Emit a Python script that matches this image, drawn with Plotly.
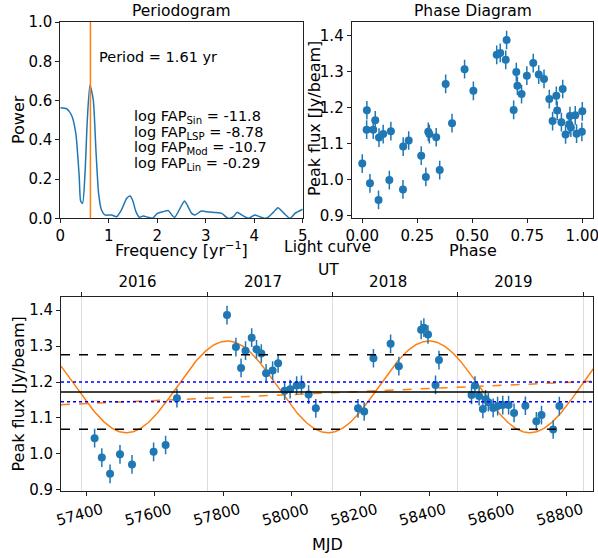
import numpy as np
import plotly.graph_objects as go

# ---------------- data ----------------
freq = [0.0, 0.13, 0.23, 0.32, 0.39, 0.42, 0.46, 0.51, 0.557, 0.612, 0.68, 0.735, 0.79, 0.85,
        0.92, 1.06, 1.16, 1.26, 1.37, 1.44, 1.49, 1.56, 1.63, 1.71, 1.81, 1.90, 2.0, 2.12,
        2.23, 2.30, 2.36, 2.47, 2.56, 2.60, 2.71, 2.78, 2.91, 3.02, 3.22, 3.33, 3.46, 3.57,
        3.65, 3.74, 3.88, 4.01, 4.12, 4.25, 4.39, 4.49, 4.60, 4.74, 4.84, 5.0]
power = [0.563, 0.558, 0.526, 0.433, 0.212, 0.088, 0.076, 0.229, 0.50, 0.679, 0.603, 0.348,
         0.127, 0.042, 0.017, 0.017, 0.008, 0.042, 0.102, 0.114, 0.093, 0.034, 0.005, 0.012,
         0.005, 0.0, 0.025, 0.034, 0.039, 0.017, 0.005, 0.051, 0.088, 0.076, 0.025, 0.017,
         0.037, 0.034, 0.029, 0.025, 0.0, 0.008, 0.031, 0.017, 0.0, 0.017, 0.008, 0.0, 0.029,
         0.054, 0.029, 0.0, 0.025, 0.046]
period_yr = 1.61
fap_names = ["Sin", "LSP", "Mod", "Lin"]
fap_values = ["-11.8", "-8.78", "-10.7", "-0.29"]

phase = [0.000, 0.021, 0.020, 0.035, 0.050, 0.059, 0.074, 0.076, 0.095, 0.123, 0.130, 0.185,
         0.186, 0.211, 0.268, 0.289, 0.300, 0.305, 0.336, 0.352, 0.379, 0.408, 0.465, 0.505,
         0.611, 0.627, 0.652, 0.656, 0.688, 0.700, 0.705, 0.724, 0.748, 0.777, 0.802, 0.826,
         0.850, 0.865, 0.882, 0.886, 0.905, 0.911, 0.924, 0.941, 0.944, 0.948, 0.968, 0.974,
         0.998, 1.000]
phase_flux = [1.044, 1.192, 1.138, 0.989, 1.138, 1.164, 0.943, 1.116, 1.126, 0.998, 1.134,
              0.972, 1.091, 1.108, 1.066, 1.007, 1.132, 1.126, 1.117, 1.026, 1.265, 1.156,
              1.306, 1.246, 1.346, 1.351, 1.332, 1.387, 1.193, 1.298, 1.260, 1.237, 1.288,
              1.323, 1.291, 1.279, 1.223, 1.162, 1.232, 1.191, 1.159, 1.251, 1.125, 1.153,
              1.176, 1.144, 1.178, 1.127, 1.132, 1.189]

mjd = [57425, 57446, 57470, 57499, 57534, 57597, 57632, 57665,
       57811, 57837, 57852, 57865, 57883, 57897, 57911, 57925, 57944, 57960, 57979, 57995,
       58014, 58028, 58049, 58070,
       58193, 58211, 58238, 58288, 58312, 58377, 58385, 58397, 58419, 58429,
       58524, 58534, 58546, 58557, 58565, 58573, 58587, 58600, 58615, 58632, 58648, 58681,
       58713, 58728, 58762, 58780]
flux = [1.044, 0.990, 0.945, 0.999, 0.971, 1.006, 1.025, 1.155,
        1.386, 1.297, 1.239, 1.287, 1.323, 1.291, 1.279, 1.224, 1.232, 1.252, 1.176, 1.180,
        1.190, 1.192, 1.165, 1.127,
        1.127, 1.118, 1.266, 1.306, 1.244, 1.345, 1.351, 1.332, 1.192, 1.261,
        1.164, 1.190, 1.161, 1.125, 1.152, 1.144, 1.128, 1.133, 1.136, 1.136, 1.114, 1.134,
        1.091, 1.108, 1.068, 1.133]
flux_err = [0.026] * len(flux)
phase_err = [0.026] * len(phase_flux)

flux_mean = 1.172
flux_std_hi, flux_std_lo = 1.276, 1.069
blue_hi, blue_lo = 1.200, 1.145
sine_mean, sine_amp, sine_peak_mjd = 1.1865, 0.1275, 57812
trend_start, trend_end = 1.137, 1.202

year_mjd = [57388, 57754, 58119, 58484, 58849]
year_label_mjd = [57550, 57916, 58281, 58646]
year_labels = ["2016", "2017", "2018", "2019"]
mjd_range = [57327, 58879]

# ---------------- styling ----------------
W, H = 598, 558
FONT = "DejaVu Sans"
BLUE = "#1f77b4"
ORANGE = "#ff7f0e"
AX = "#222222"
TICK_SIZE = 15
LABEL_SIZE = 16
TITLE_SIZE = 15.5
TEXT_SIZE = 14.5


def px(xp):
    return xp / W


def py(yp):
    return 1 - yp / H


fig = go.Figure()

# Periodogram
fig.add_trace(go.Scatter(x=freq, y=power, mode="lines",
                         line=dict(color=BLUE, width=1.5, shape="spline", smoothing=0.6),
                         xaxis="x", yaxis="y", showlegend=False, hoverinfo="skip"))
f_peak = 1.0 / period_yr
fig.add_shape(type="line", xref="x", yref="y domain", x0=f_peak, x1=f_peak, y0=0, y1=1,
              line=dict(color=ORANGE, width=1.5))

# Phase diagram
fig.add_trace(go.Scatter(x=phase, y=phase_flux, mode="markers",
                         marker=dict(color=BLUE, size=8),
                         error_y=dict(type="data", array=phase_err, color=BLUE, thickness=1.5, width=0),
                         xaxis="x2", yaxis="y2", showlegend=False))

# Light curve: model lines
t = np.linspace(mjd_range[0], mjd_range[1], 600)
P_days = period_yr * 365.25
sine = sine_mean + sine_amp * np.cos(2 * np.pi * (t - sine_peak_mjd) / P_days)
trend = trend_start + (trend_end - trend_start) * (t - t[0]) / (t[-1] - t[0])

for yv, col, dash in [(flux_std_hi, "black", "dash"), (flux_std_lo, "black", "dash"),
                      (flux_mean, "black", "solid"),
                      (blue_hi, "blue", "dot"), (blue_lo, "blue", "dot")]:
    fig.add_shape(type="line", xref="x3 domain", yref="y3", x0=0, x1=1, y0=yv, y1=yv,
                  line=dict(color=col, width=1.5, dash=dash), layer="above")

fig.add_trace(go.Scatter(x=t, y=trend, mode="lines", line=dict(color=ORANGE, width=1.5, dash="dash"),
                         xaxis="x3", yaxis="y3", showlegend=False, hoverinfo="skip"))
fig.add_trace(go.Scatter(x=t, y=sine, mode="lines", line=dict(color=ORANGE, width=1.5),
                         xaxis="x3", yaxis="y3", showlegend=False, hoverinfo="skip"))
fig.add_trace(go.Scatter(x=mjd, y=flux, mode="markers",
                         marker=dict(color=BLUE, size=8),
                         error_y=dict(type="data", array=flux_err, color=BLUE, thickness=1.5, width=0),
                         xaxis="x3", yaxis="y3", showlegend=False))
# dummy traces for top axes
fig.add_trace(go.Scatter(x=mjd_range, y=[None, None], xaxis="x4", yaxis="y3", showlegend=False, hoverinfo="skip"))
fig.add_trace(go.Scatter(x=mjd_range, y=[None, None], xaxis="x5", yaxis="y3", showlegend=False, hoverinfo="skip"))

tickfont = dict(family=FONT, size=TICK_SIZE, color="black")
axis_common = dict(showline=True, linecolor=AX, linewidth=1, mirror=True, ticks="outside",
                   ticklen=4, tickwidth=1, tickcolor=AX, tickfont=tickfont, showgrid=False,
                   zeroline=False, automargin=False, ticklabeloverflow="allow")

fig.update_layout(
    width=W, height=H, margin=dict(l=0, r=0, t=0, b=0, autoexpand=False),
    paper_bgcolor="white", plot_bgcolor="white",
    font=dict(family=FONT, size=TICK_SIZE, color="black"),
    xaxis=dict(domain=[px(60.3), px(302.7)], range=[0, 5], anchor="y",
               tickvals=[0, 1, 2, 3, 4, 5], **axis_common),
    yaxis=dict(domain=[py(218.3), py(22)], range=[0, 1], anchor="x",
               tickvals=[0, 0.2, 0.4, 0.6, 0.8, 1.0], tickformat=".1f", **axis_common),
    xaxis2=dict(domain=[px(351.7), px(593.3)], range=[-0.048, 1.05], anchor="y2",
                tickvals=[0, 0.25, 0.5, 0.75, 1.0], tickformat=".2f", **axis_common),
    yaxis2=dict(domain=[py(218.3), py(22)], range=[0.892, 1.437], anchor="x2",
                tickvals=[0.9, 1.0, 1.1, 1.2, 1.3, 1.4], tickformat=".1f", **axis_common),
    xaxis3=dict(domain=[px(61), px(593.3)], range=mjd_range, anchor="y3",
                tickvals=list(range(57400, 58801, 200)), tickangle=-15, tickformat="d",
                ticklabelshift=16, **axis_common),
    yaxis3=dict(domain=[py(490.7), py(296.7)], range=[0.898, 1.437], anchor="x3",
                tickvals=[0.9, 1.0, 1.1, 1.2, 1.3, 1.4], tickformat=".1f", **axis_common),
    xaxis4=dict(overlaying="x3", side="top", anchor="y3", range=mjd_range,
                tickvals=year_mjd, showticklabels=False, ticks="outside", ticklen=4,
                tickcolor=AX, showgrid=True, gridcolor="#dddddd", gridwidth=1, zeroline=False,
                showline=False, automargin=False),
    xaxis5=dict(overlaying="x3", side="top", anchor="y3", range=mjd_range,
                tickvals=year_label_mjd, ticktext=year_labels, ticks="outside", ticklen=3,
                tickcolor="rgba(0,0,0,0)", showgrid=False, zeroline=False, showline=False,
                tickfont=tickfont, automargin=False, ticklabeloverflow="allow"),
)

ann = []
# titles and axis labels (placed in paper pixels)
for txt, xx, yy, size, ang in [
        ("Periodogram", 181.5, 11, TITLE_SIZE, 0),
        ("Phase Diagram", 472.5, 11, TITLE_SIZE, 0),
        ("Light curve", 327, 247, TITLE_SIZE, 0),
        ("UT", 328, 270, TITLE_SIZE, 0),
        ("Frequency [yr<sup>−1</sup>]", 181.5, 249, LABEL_SIZE, 0),
        ("Phase", 472.5, 250, LABEL_SIZE, 0),
        ("Power", 18, 120, LABEL_SIZE, -90),
        ("Peak flux [Jy/beam]", 315, 119, LABEL_SIZE, -90),
        ("Peak flux [Jy/beam]", 17.5, 394, LABEL_SIZE, -90),
        ("MJD", 327.5, 544, LABEL_SIZE, 0)]:
    ann.append(dict(text=txt, x=px(xx), y=py(yy), xref="paper", yref="paper",
                    showarrow=False, textangle=ang,
                    font=dict(family=FONT, size=size, color="black"),
                    xanchor="center", yanchor="middle"))
ann.append(dict(text=f"Period = {period_yr:.2f} yr", x=0.75, y=0.823, xref="x", yref="y",
                showarrow=False, font=dict(family=FONT, size=TEXT_SIZE, color="black"),
                xanchor="left", yanchor="middle"))
fap_y = [0.516, 0.437, 0.358, 0.279]
for name, val, yy in zip(fap_names, fap_values, fap_y):
    ann.append(dict(text=f"log FAP<sub>{name}</sub> = {val}", x=1.478, y=yy, xref="x", yref="y",
                    showarrow=False, font=dict(family=FONT, size=TEXT_SIZE, color="black"),
                    xanchor="left", yanchor="middle"))
fig.update_layout(annotations=ann)

fig.write_html("out.html", config={"displayModeBar": False},
               post_script="document.body.style.margin='0px';")
